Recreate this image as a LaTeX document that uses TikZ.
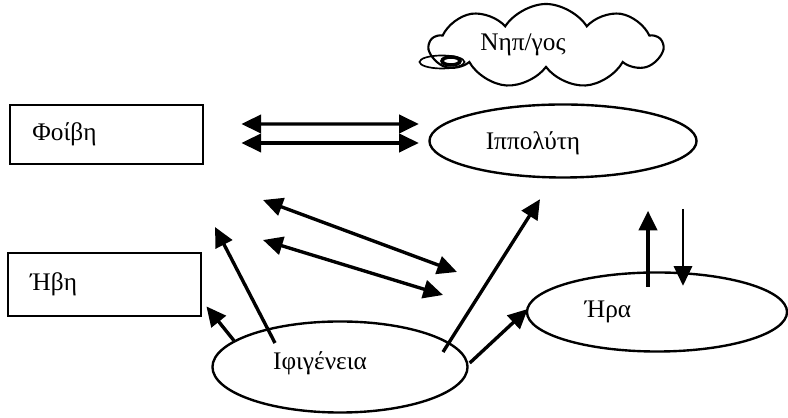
\documentclass[tikz,border=0pt]{standalone}
\usepackage{fontspec}
\setmainfont{Liberation Serif}
\usetikzlibrary{shapes.geometric, shapes.symbols, arrows.meta, positioning, calc}
\tikzset{
  font=\fontsize{18}{20}\selectfont,
  boxblock/.style={
    rectangle, draw=black, line width=2pt,
    minimum width=4.825cm, text width=3.7cm, inner xsep=0.55cm,
    align=left
  },
  ovalblock/.style={ellipse, draw=black, line width=1.7pt, inner sep=0pt},
  cloudblock/.style={
    cloud, draw=black, line width=1.5pt, cloud puffs=9, cloud puff arc=115,
    aspect=2.8, minimum width=5.8cm, minimum height=2.1cm
  },
  labeltext/.style={inner sep=0pt},
  flowline/.style={
    draw=black, line width=2.4pt, -{Triangle[length=14pt, width=13pt]}
  },
  bidirline/.style={
    draw=black, line width=2.4pt,
    {Triangle[length=14pt, width=13pt]}-{Triangle[length=14pt, width=13pt]}
  }
}
\begin{document}
\begin{tikzpicture}[x=0.025cm, y=0.025cm]
  \useasboundingbox (0,0) rectangle (788,418);

  % Boxes (left)
  \node[boxblock, minimum height=1.475cm] (foivi) at (106.5,283.5) {Φοίβη};
  \node[boxblock, minimum height=1.575cm] (ivi) at (104.5,133.5) {Ήβη};

  % Ellipses
  \node[ovalblock, minimum width=6.675cm, minimum height=1.825cm] (ippolyti) at (563,277) {};
  \node[labeltext] (ippolyti_txt) at (533,275) {Ιππολύτη};
  \node[ovalblock, minimum width=6.375cm, minimum height=2.275cm] (ifigeneia) at (340,51) {};
  \node[labeltext] (ifigeneia_txt) at (320,55) {Ιφιγένεια};
  \node[ovalblock, minimum width=6.5cm, minimum height=1.975cm] (ira) at (657,106) {};
  \node[labeltext] (ira_txt) at (608,106) {Ήρα};

  % Cloud with its small tail
  \node[cloudblock] (nipios) at (546,372) {};
  \node[labeltext] (nipios_txt) at (523,373) {Νηπ/γος};
  \draw[line width=1.2pt] (442,356) ellipse [x radius=22.5, y radius=6.5];
  \draw[line width=2.5pt] (451,357) ellipse [x radius=9, y radius=4];

  % Double arrows Φοίβη <-> Ιππολύτη
  \draw[bidirline] ([shift={(37,10.5)}]foivi.east) -- ([shift={(-9.5,17)}]ippolyti.west);
  \draw[bidirline] ([shift={(37,-8.5)}]foivi.east) -- ([shift={(-9.5,-2)}]ippolyti.west);

  % Diagonal double arrows
  \coordinate (diag_a1) at (263,218);
  \coordinate (diag_b1) at (457,146);
  \coordinate (diag_a2) at (263,178);
  \coordinate (diag_b2) at (443,123);
  \draw[bidirline] (diag_a1) -- (diag_b1);
  \draw[bidirline] (diag_a2) -- (diag_b2);

  % Arrows from Ιφιγένεια
  \coordinate (free_up) at (215,191);
  \draw[flowline] (ifigeneia.166) -- ([shift={(4,11)}]ivi.south east);
  \draw[flowline] ([shift={(-65,24)}]ifigeneia.center) -- (free_up);
  \draw[flowline] ([shift={(103,15)}]ifigeneia.center) -- ([shift={(-23,-20.5)}]ippolyti.south);
  \draw[flowline] ([shift={(1,4)}]ifigeneia.east) -- ([shift={(2,3)}]ira.west);

  % Arrows above Ήρα
  \draw[flowline] ([shift={(-9,-15.5)}]ira.north) -- ([shift={(-9,60.5)}]ira.north);
  \draw[flowline, line width=1.8pt] ([shift={(26,62.5)}]ira.north) -- ([shift={(26,-14.5)}]ira.north);

\end{tikzpicture}
\end{document}
